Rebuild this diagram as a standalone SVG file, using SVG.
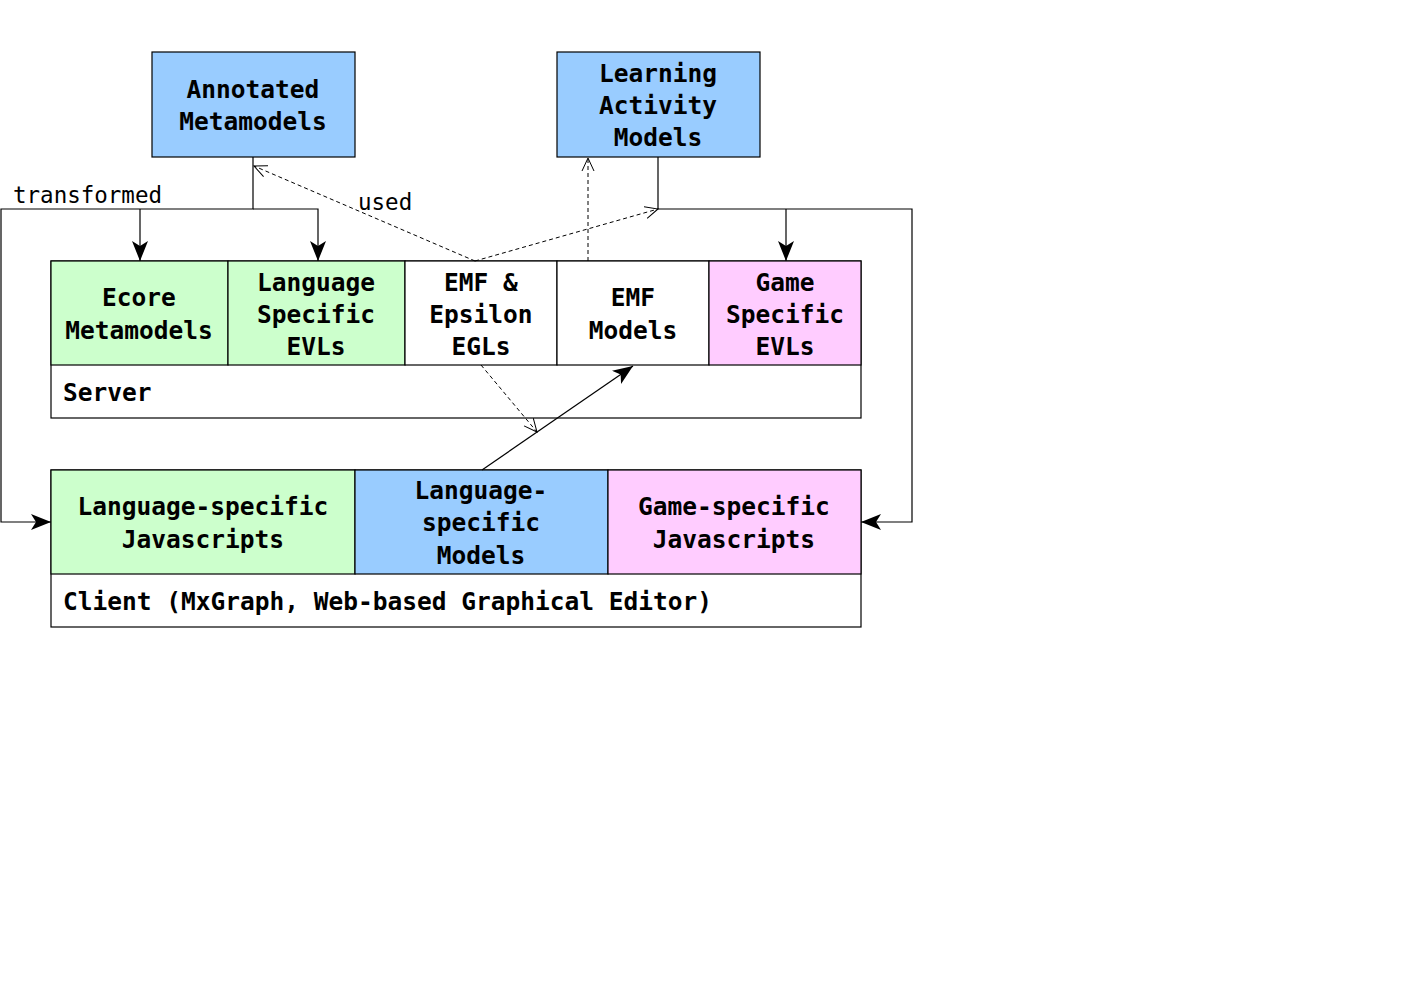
<svg xmlns="http://www.w3.org/2000/svg" width="1403" height="992" viewBox="0 0 1403 992">
<style>
.b{stroke:#000;stroke-width:1.2}
.blue{fill:#99CCFF}.green{fill:#CCFFCC}.pink{fill:#FFCCFF}.white{fill:#fff}
text{font-family:"DejaVu Sans Mono","Liberation Mono",monospace;font-size:24.5px;font-weight:bold;fill:#000}
.c{text-anchor:middle}
.lbl{font-weight:normal;font-size:22.5px}
.ln{fill:none;stroke:#000;stroke-width:1.2}
.d{stroke-dasharray:4 3;stroke-width:1}
</style>
<defs>
<marker id="fa" viewBox="0 0 20 16" refX="20" refY="8" markerWidth="20" markerHeight="16" markerUnits="userSpaceOnUse" orient="auto"><path d="M0,0 L20,8 L0,16 L5,8 Z" fill="#000"/></marker>
<marker id="oa" viewBox="0 0 14 14" refX="13" refY="7" markerWidth="14" markerHeight="14" markerUnits="userSpaceOnUse" orient="auto"><path d="M0,1 L13,7 L0,13" fill="none" stroke="#000" stroke-width="1"/></marker>
</defs>
<rect width="1403" height="992" fill="#fff"/>
<g id="annotated"><rect class="b blue" x="152" y="52" width="203" height="105"/><text class="c" x="253" y="98">Annotated</text><text class="c" x="253" y="130">Metamodels</text></g>
<g id="learning"><rect class="b blue" x="557" y="52" width="203" height="105"/><text class="c" x="658" y="82">Learning</text><text class="c" x="658" y="114">Activity</text><text class="c" x="658" y="146">Models</text></g>
<g id="server"><rect class="b white" x="51" y="261" width="810" height="157"/><text x="63" y="401">Server</text></g>
<g id="ecore"><rect class="b green" x="51" y="261" width="177" height="104"/><text class="c" x="139" y="306">Ecore</text><text class="c" x="139" y="339">Metamodels</text></g>
<g id="lsevl"><rect class="b green" x="228" y="261" width="177" height="104"/><text class="c" x="316" y="291">Language</text><text class="c" x="316" y="323">Specific</text><text class="c" x="316" y="355">EVLs</text></g>
<g id="emfegl"><rect class="b white" x="405" y="261" width="152" height="104"/><text class="c" x="481" y="291">EMF &amp;</text><text class="c" x="481" y="323">Epsilon</text><text class="c" x="481" y="355">EGLs</text></g>
<g id="emfmodels"><rect class="b white" x="557" y="261" width="152" height="104"/><text class="c" x="633" y="306">EMF</text><text class="c" x="633" y="339">Models</text></g>
<g id="gsevl"><rect class="b pink" x="709" y="261" width="152" height="104"/><text class="c" x="785" y="291">Game</text><text class="c" x="785" y="323">Specific</text><text class="c" x="785" y="355">EVLs</text></g>
<g id="client"><rect class="b white" x="51" y="470" width="810" height="157"/><text x="63" y="610">Client (MxGraph, Web-based Graphical Editor)</text></g>
<g id="lsjs"><rect class="b green" x="51" y="470" width="304" height="104"/><text class="c" x="203" y="515">Language-specific</text><text class="c" x="203" y="548">Javascripts</text></g>
<g id="lsmodels"><rect class="b blue" x="355" y="470" width="253" height="104"/><text class="c" x="481" y="499">Language-</text><text class="c" x="481" y="531">specific</text><text class="c" x="481" y="564">Models</text></g>
<g id="gsjs"><rect class="b pink" x="608" y="470" width="253" height="104"/><text class="c" x="734" y="515">Game-specific</text><text class="c" x="734" y="548">Javascripts</text></g>
<g id="connectors">
<path class="ln" d="M253,157 V209 H1 V522 H51" marker-end="url(#fa)"/>
<path class="ln" d="M140,209 V261" marker-end="url(#fa)"/>
<path class="ln" d="M253,209 H318 V261" marker-end="url(#fa)"/>
<path class="ln" d="M658,157 V209 H912 V522 H861" marker-end="url(#fa)"/>
<path class="ln" d="M786,209 V261" marker-end="url(#fa)"/>
<path class="ln d" d="M475,261 L254,166" marker-end="url(#oa)"/>
<path class="ln d" d="M475,261 L658,209" marker-end="url(#oa)"/>
<path class="ln d" d="M588,261 V158" marker-end="url(#oa)"/>
<path class="ln d" d="M481,365 L537,432" marker-end="url(#oa)"/>
<path class="ln" d="M482,470 L633,366" marker-end="url(#fa)"/>
<text class="lbl" x="13" y="203">transformed</text>
<text class="lbl" x="358" y="210">used</text>
</g>
</svg>
